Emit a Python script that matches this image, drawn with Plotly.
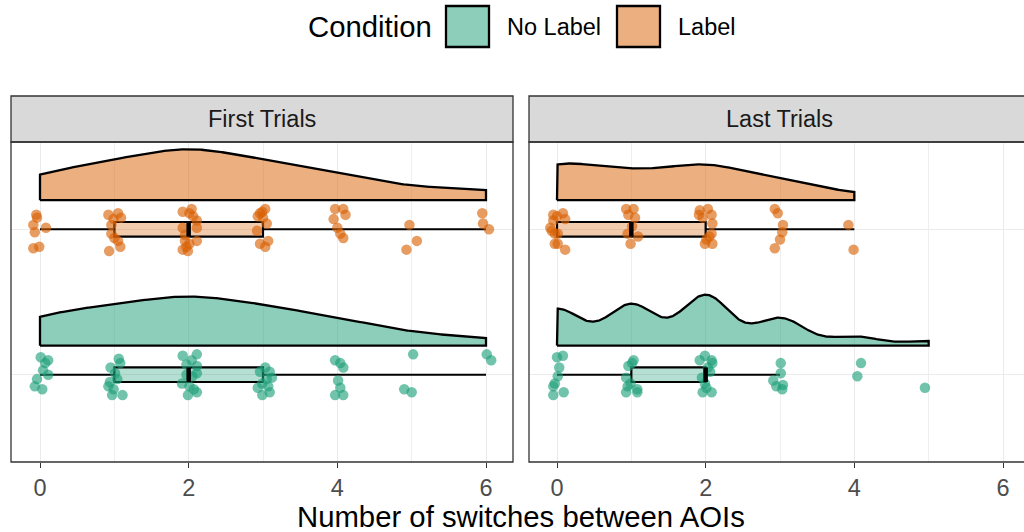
import numpy as np
import plotly.graph_objects as go

# ---------------- data ----------------
conditions = ["No Label", "Label"]
panels = ["First Trials", "Last Trials"]
x_tick_vals = [0, 2, 4, 6]
x_tick_text = ["0", "2", "4", "6"]
x_title = "Number of switches between AOIs"
legend_title = "Condition"

# First Trials, Label
first_label_values = [0, 0, 0, 0, 0, 0, 0,
                      1, 1, 1, 1, 1, 1, 1, 1, 1, 1,
                      2, 2, 2, 2, 2, 2, 2, 2, 2, 2, 2, 2, 2, 2,
                      3, 3, 3, 3, 3, 3, 3, 3, 3, 3,
                      4, 4, 4, 4, 4, 4, 4,
                      5, 5, 5,
                      6, 6, 6]
first_label_jx = [-0.05, -0.04, -0.09, 0.08, -0.07, -0.09, -0.01,
                  -0.08, 0.05, 0.09, -0.01, -0.04, -0.04, 0.05, -0.07, 0.00, 0.08,
                  -0.08, 0.04, 0.01, 0.11, -0.08, 0.11, -0.05, 0.01, 0.11, -0.08, -0.01, -0.03, 0.06, -0.05,
                  0.03, -0.04, -0.07, 0.00, 0.05, -0.08, -0.04, 0.03, 0.07, -0.01,
                  -0.03, 0.08, 0.11, -0.05, 0.00, 0.04, 0.08,
                  -0.03, 0.07, -0.07,
                  -0.05, -0.04, 0.04]
first_label_jy = [0.10, 0.08, 0.03, 0.01, -0.02, -0.13, -0.12,
                  0.10, 0.11, 0.08, 0.07, 0.03, -0.03, -0.08, -0.15, -0.06, -0.12,
                  0.12, 0.14, 0.11, 0.06, 0.01, 0.01, -0.08, -0.10, -0.08, -0.14, -0.15, -0.12, 0.09, -0.04,
                  0.14, 0.11, 0.09, 0.08, 0.04, -0.01, -0.10, -0.12, -0.08, 0.12,
                  0.14, 0.14, 0.10, 0.07, 0.01, -0.03, -0.06,
                  0.03, -0.08, -0.14,
                  0.11, 0.04, 0.00]

# First Trials, No Label
first_nolabel_values = [0, 0, 0, 0, 0, 0, 0, 0,
                        1, 1, 1, 1, 1, 1, 1, 1, 1, 1,
                        2, 2, 2, 2, 2, 2, 2, 2, 2, 2, 2, 2, 2,
                        3, 3, 3, 3, 3, 3, 3, 3, 3, 3,
                        4, 4, 4, 4, 4, 4, 4,
                        5, 5, 5,
                        6, 6]
first_nolabel_jx = [0.01, 0.11, 0.07, 0.04, 0.11, -0.04, -0.07, 0.03,
                    -0.05, 0.08, 0.01, -0.08, -0.01, 0.11, -0.03, 0.04, 0.06, -0.06,
                    -0.08, 0.11, 0.04, -0.03, 0.11, 0.11, -0.03, -0.09, 0.01, 0.11, -0.01, 0.05, 0.07,
                    -0.04, 0.09, -0.01, 0.07, 0.09, -0.01, 0.05, 0.03, -0.07, 0.12,
                    -0.03, 0.04, 0.08, 0.01, 0.04, -0.03, 0.08,
                    0.02, -0.10, 0.00,
                    0.01, 0.07]
first_nolabel_jy = [0.12, 0.10, 0.08, 0.03, 0.00, -0.03, -0.08, -0.10,
                    0.05, 0.08, 0.01, -0.08, -0.10, -0.14, -0.14, -0.03, 0.11, -0.05,
                    0.13, 0.14, 0.10, 0.07, 0.06, 0.01, 0.00, -0.06, -0.08, -0.12, -0.14, -0.01, -0.10,
                    0.02, 0.02, -0.06, -0.08, -0.12, -0.14, -0.03, 0.05, -0.09, -0.02,
                    0.10, 0.08, 0.05, -0.04, -0.09, -0.14, -0.14,
                    0.14, -0.10, -0.12,
                    0.14, 0.10]

# Last Trials, Label
last_label_values = [0, 0, 0, 0, 0, 0, 0, 0, 0, 0, 0, 0,
                     1, 1, 1, 1, 1, 1, 1, 1,
                     2, 2, 2, 2, 2, 2, 2, 2, 2, 2, 2,
                     3, 3, 3, 3, 3, 3,
                     4, 4]
last_label_jx = [-0.05, 0.00, 0.08, 0.11, -0.05, -0.07, -0.03, 0.01, -0.03, 0.01, 0.11, -0.09,
                 -0.07, 0.03, -0.04, 0.05, 0.01, -0.05, 0.09, -0.01,
                 -0.08, 0.03, 0.08, -0.04, 0.09, 0.08, 0.01, 0.09, -0.01, -0.09, 0.05,
                 -0.07, -0.03, 0.04, 0.03, 0.00, -0.07,
                 -0.08, -0.01]
last_label_jy = [0.10, 0.09, 0.11, 0.07, 0.06, -0.01, -0.03, -0.03, -0.10, -0.10, -0.14, 0.01,
                 0.14, 0.14, 0.10, 0.08, 0.02, -0.03, -0.05, -0.10,
                 0.13, 0.14, 0.10, 0.08, 0.04, -0.03, -0.07, -0.10, -0.10, 0.10, -0.05,
                 0.14, 0.11, 0.03, -0.02, -0.07, -0.13,
                 0.03, -0.14]

# Last Trials, No Label
last_nolabel_values = [0, 0, 0, 0, 0, 0, 0, 0,
                       1, 1, 1, 1, 1, 1, 1, 1, 1,
                       2, 2, 2, 2, 2, 2, 2, 2, 2, 2, 2,
                       3, 3, 3, 3, 3, 3,
                       4, 4,
                       5]
last_nolabel_jx = [0.00, 0.08, 0.03, 0.01, -0.03, -0.05, 0.09, -0.05,
                   0.03, -0.04, 0.01, -0.07, -0.05, 0.08, -0.07, 0.08, -0.01,
                   -0.08, -0.01, 0.08, 0.09, -0.05, -0.01, 0.01, -0.04, 0.08, 0.03, 0.06,
                   0.01, 0.01, -0.09, 0.04, -0.05, 0.03,
                   0.09, 0.04,
                   -0.05]
last_nolabel_jy = [0.12, 0.13, 0.05, -0.01, -0.06, -0.14, -0.12, -0.08,
                   0.10, 0.06, 0.08, -0.02, -0.08, -0.10, -0.12, -0.12, -0.06,
                   0.10, 0.13, 0.10, 0.08, -0.02, -0.06, -0.09, -0.12, -0.12, 0.05, 0.02,
                   0.08, 0.01, -0.04, -0.07, -0.08, -0.10,
                   0.08, -0.01,
                   -0.09]

groups = {
    ("First Trials", "Label"): (first_label_values, first_label_jx, first_label_jy),
    ("First Trials", "No Label"): (first_nolabel_values, first_nolabel_jx, first_nolabel_jy),
    ("Last Trials", "Label"): (last_label_values, last_label_jx, last_label_jy),
    ("Last Trials", "No Label"): (last_nolabel_values, last_nolabel_jx, last_nolabel_jy),
}

# ---------------- style ----------------
W, H = 1024, 532
RGB = {"No Label": (27, 158, 119), "Label": (217, 95, 2)}
YPOS = {"No Label": 1, "Label": 2}
VIOLIN_OFFSET = 0.2
VIOLIN_MAX = 0.35
BOX_W = 0.1
FONT = "Liberation Sans, Arial, sans-serif"


def rgba(c, a):
    return f"rgba({c[0]},{c[1]},{c[2]},{a})"


def px2x(p):
    return p / W


def px2y(p):
    return 1 - p / H


def nrd0(v):
    v = np.asarray(v, float)
    sd = v.std(ddof=1)
    q1, q3 = np.percentile(v, [25, 75])
    lo = min(sd, (q3 - q1) / 1.34)
    if lo == 0:
        lo = sd if sd > 0 else 1.0
    return 0.9 * lo * len(v) ** -0.2


def kde(v):
    v = np.asarray(v, float)
    bw = nrd0(v)
    grid = np.linspace(v.min(), v.max(), 512)
    d = np.exp(-0.5 * ((grid[:, None] - v[None, :]) / bw) ** 2).sum(1)
    d /= len(v) * bw * np.sqrt(2 * np.pi)
    return grid, d


def box_stats(v):
    v = np.asarray(v, float)
    q1, med, q3 = np.percentile(v, [25, 50, 75])
    iqr = q3 - q1
    lf = v[v >= q1 - 1.5 * iqr].min()
    uf = v[v <= q3 + 1.5 * iqr].max()
    return q1, med, q3, lf, uf


fig = go.Figure()

for pi, panel in enumerate(panels):
    xa = "x" if pi == 0 else "x2"
    ya = "y" if pi == 0 else "y2"
    dens = {c: kde(groups[(panel, c)][0]) for c in conditions}
    pmax = max(d.max() for _, d in dens.values())
    for cond in conditions:
        vals, jx, jy = groups[(panel, cond)]
        c = RGB[cond]
        yc = YPOS[cond]
        grid, d = dens[cond]
        base = yc + VIOLIN_OFFSET
        top = base + VIOLIN_MAX * d / pmax
        vx = np.concatenate([[grid[0]], grid, [grid[-1], grid[0]]])
        vy = np.concatenate([[base], top, [base, base]])
        fig.add_trace(go.Scatter(x=vx, y=vy, xaxis=xa, yaxis=ya, mode="lines",
                                 fill="toself", fillcolor=rgba(c, 0.5),
                                 line=dict(color="black", width=2.3),
                                 showlegend=False, hoverinfo="skip"))
        # jittered points
        px_ = np.asarray(vals, float) + np.asarray(jx)
        py_ = yc + np.asarray(jy)
        fig.add_trace(go.Scatter(x=px_, y=py_, xaxis=xa, yaxis=ya, mode="markers",
                                 marker=dict(color=rgba(c, 0.62), size=10.5, line=dict(width=0)),
                                 showlegend=False, hoverinfo="skip"))
        # boxplot
        q1, med, q3, lf, uf = box_stats(vals)
        fig.add_trace(go.Box(y=[yc], q1=[q1], median=[med], q3=[q3],
                             lowerfence=[lf], upperfence=[uf],
                             orientation="h", width=BOX_W, whiskerwidth=0,
                             fillcolor=rgba(c, 0.33),
                             line=dict(color="black", width=2.2),
                             boxpoints=False, xaxis=xa, yaxis=ya,
                             showlegend=False, hoverinfo="skip"))
        fig.add_trace(go.Scatter(x=[med, med], y=[yc - BOX_W / 2, yc + BOX_W / 2],
                                 xaxis=xa, yaxis=ya, mode="lines",
                                 line=dict(color="black", width=4.5),
                                 showlegend=False, hoverinfo="skip"))

# axes
panel_top, panel_bot = 142, 462
strip_top = 96
left_dom = [px2x(11), px2x(513)]
right_dom = [px2x(529), 1.0]
ppu = (486 - 40) / 6.0
xr_left = [-(40 - 11) / ppu, 6 + (513 - 486) / ppu]
xr_right = [-(557 - 529) / ppu, (1024 - 557) / ppu]

xcommon = dict(tickvals=x_tick_vals, ticktext=x_tick_text, ticks="outside", ticklen=5,
               tickwidth=1.1, tickcolor="#333333",
               tickfont=dict(family=FONT, size=23.5, color="#4D4D4D"),
               showgrid=True, gridcolor="#EBEBEB", gridwidth=1.1, zeroline=False, showline=False,
               minor=dict(tickvals=[1, 3, 5], showgrid=True, gridcolor="#EFEFEF", gridwidth=0.6, ticks=""))
ycommon = dict(range=[0.4, 2.6], tickvals=[1, 2], showticklabels=False, ticks="",
               showgrid=True, gridcolor="#EBEBEB", gridwidth=1.1, zeroline=False, showline=False,
               domain=[px2y(panel_bot), px2y(panel_top)])

fig.update_layout(
    xaxis=dict(domain=left_dom, range=xr_left, anchor="y", **xcommon),
    xaxis2=dict(domain=right_dom, range=xr_right, anchor="y2", **xcommon),
    yaxis=dict(anchor="x", **ycommon),
    yaxis2=dict(anchor="x2", **ycommon),
)

shapes = []
annotations = []
# panel borders and strips
for (l, r, cx, title) in [(11, 513, 262, panels[0]), (529, 1031, 779, panels[1])]:
    shapes.append(dict(type="rect", xref="paper", yref="paper",
                       x0=px2x(l), x1=px2x(r), y0=px2y(panel_top), y1=px2y(strip_top),
                       fillcolor="#D9D9D9", line=dict(color="#333333", width=1.3), layer="above"))
    shapes.append(dict(type="rect", xref="paper", yref="paper",
                       x0=px2x(l), x1=px2x(r), y0=px2y(panel_bot), y1=px2y(panel_top),
                       fillcolor="rgba(0,0,0,0)", line=dict(color="#333333", width=1.3), layer="above"))
    annotations.append(dict(text=title, xref="paper", yref="paper", x=px2x(cx),
                            y=px2y((strip_top + panel_top) / 2), showarrow=False,
                            xanchor="center", yanchor="middle",
                            font=dict(family=FONT, size=23.5, color="#1A1A1A")))

# x axis title
annotations.append(dict(text=x_title, xref="paper", yref="paper", x=px2x(521), y=px2y(516),
                        showarrow=False, xanchor="center", yanchor="middle",
                        font=dict(family=FONT, size=29.3, color="black")))

# legend (drawn manually as ggplot-style keys)
annotations.append(dict(text=legend_title, xref="paper", yref="paper", x=px2x(306), y=px2y(27),
                        showarrow=False, xanchor="left", yanchor="middle",
                        font=dict(family=FONT, size=29.3, color="black")))
for cond, kx, tx in [("No Label", 446, 505), ("Label", 617, 676)]:
    shapes.append(dict(type="rect", xref="paper", yref="paper",
                       x0=px2x(kx), x1=px2x(kx + 43), y0=px2y(47), y1=px2y(6),
                       fillcolor=rgba(RGB[cond], 0.5), line=dict(color="black", width=2.3)))
    annotations.append(dict(text=cond, xref="paper", yref="paper", x=px2x(tx), y=px2y(27),
                            showarrow=False, xanchor="left", yanchor="middle",
                            font=dict(family=FONT, size=23.5, color="black")))

fig.update_layout(width=W, height=H, margin=dict(l=0, r=0, t=0, b=0),
                  paper_bgcolor="white", plot_bgcolor="white",
                  shapes=shapes, annotations=annotations, showlegend=False,
                  boxmode="overlay")

fig.write_html("out.html")
